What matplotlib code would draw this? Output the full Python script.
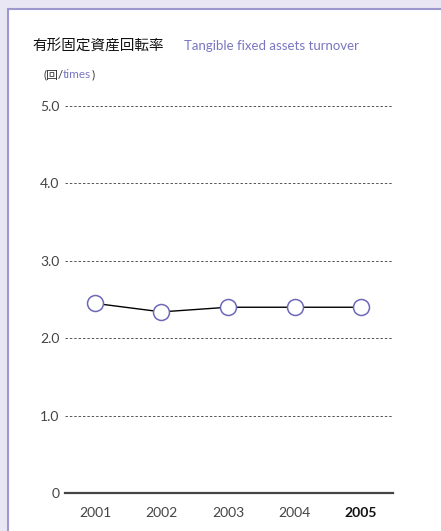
import matplotlib.pyplot as plt
from matplotlib.patches import Rectangle

years = ['2001', '2002', '2003', '2004', '2005']
turnover = [2.45, 2.34, 2.40, 2.40, 2.40]
y_ticks = [0, 1, 2, 3, 4, 5]
y_labels = ['0', '1.0', '2.0', '3.0', '4.0', '5.0']

purple = '#7a76c0'
fam = ['Lato', 'Noto Sans CJK JP', 'DejaVu Sans']
plt.rcParams['font.family'] = fam

fig = plt.figure(figsize=(4.41, 5.31), dpi=100)
fig.patch.set_facecolor('#e9e7f4')

# white panel with purple border
panel = Rectangle((8 / 441, -0.1), 1.0, 1.0 - 9 / 531 + 0.1, transform=fig.transFigure,
                  facecolor='white', edgecolor='#9d99cf', linewidth=1.5, zorder=-5)
fig.add_artist(panel)

ax = fig.add_axes([65 / 441, 1 - 493 / 531, 328 / 441, (493 - 106) / 531])
ax.set_facecolor('none')
ax.set_zorder(2)

x = list(range(len(years)))
ax.plot(x, turnover, color='black', linewidth=1, zorder=3)
ax.plot(x, turnover, linestyle='none', marker='o', markersize=11.5,
        markerfacecolor='white', markeredgecolor='#6d68b8', markeredgewidth=1.1, zorder=4)

ax.set_xlim(-0.45, 4.48)
ax.set_ylim(0, 5)
for y in y_ticks[1:]:
    ax.axhline(y, color='#555555', linewidth=0.7, linestyle=(0, (2.5, 2)), zorder=1)

for s in ['top', 'right', 'left']:
    ax.spines[s].set_visible(False)
ax.spines['bottom'].set_color('#444444')
ax.spines['bottom'].set_linewidth(1.6)

ax.set_yticks(y_ticks)
ax.set_yticklabels(y_labels, fontsize=10, color='#444444')
ax.set_xticks(x)
ax.set_xticklabels(years, fontsize=10, color='#444444')
ax.get_xticklabels()[-1].set_fontweight('bold')
ax.get_xticklabels()[-1].set_color('#111111')
ax.tick_params(length=0, pad=4)
ax.tick_params(axis='x', pad=10)

fig.text(32 / 441, 1 - 46 / 531, '有形固定資産回転率', fontsize=10.5, color='#111111',
         va='center', family=['Noto Sans CJK JP', 'DejaVu Sans'])
fig.text(184 / 441, 1 - 46 / 531, 'Tangible fixed assets turnover', fontsize=9.5,
         color=purple, va='center')

t1 = fig.text(43 / 441, 1 - 75 / 531, '(回/', fontsize=8.5, color='#333333', va='center')
t2 = ax.annotate('times', xy=(1, 0), xycoords=t1, va='bottom', fontsize=8.5,
                 color=purple, annotation_clip=False)
ax.annotate(')', xy=(1, 0), xycoords=t2, va='bottom', fontsize=8.5,
            color='#333333', annotation_clip=False)

fig.savefig('out.png', dpi=100, facecolor=fig.get_facecolor())
